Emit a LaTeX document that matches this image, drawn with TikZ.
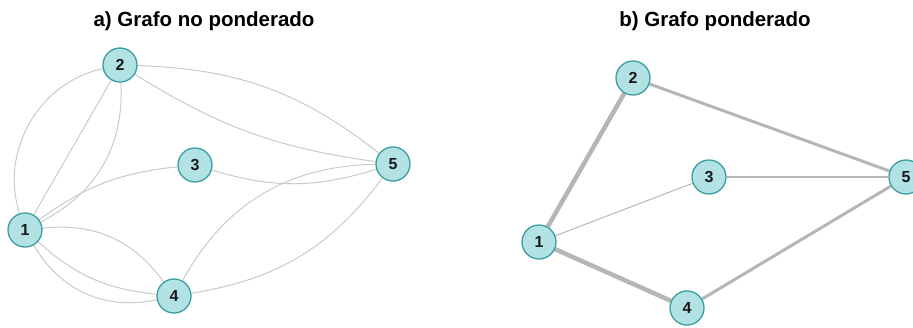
\documentclass[tikz,border=0pt]{standalone}
\usepackage{fontspec}
\setmainfont{Liberation Sans}
\usetikzlibrary{backgrounds}
\definecolor{nodefill}{RGB}{178,226,228}
\definecolor{nodeborder}{RGB}{58,158,160}
\definecolor{edgeA}{RGB}{202,202,202}
\definecolor{edgeB}{RGB}{182,182,182}
\definecolor{txt}{RGB}{25,25,25}
\tikzset{
  vert/.style={circle, minimum size=34pt, inner sep=0pt, fill=nodefill, draw=nodeborder, line width=1.3pt, text=txt, font=\fontsize{16}{18}\selectfont\bfseries},
  title/.style={anchor=base, text=black, font=\fontsize{20.5}{24}\selectfont\bfseries},
  ledge/.style={draw=edgeA, line width=1pt},
  redge/.style={draw=edgeB},
}
\begin{document}
\begin{tikzpicture}[x=1pt, y=-1pt]
\clip (0,0) rectangle (913,327);
\node[title] (ta) at (204,26) {a) Grafo no ponderado};
\node[title] (tb) at (715,26) {b) Grafo ponderado};
% left graph
\node[vert] (a1) at (25,230) {1};
\node[vert] (a2) at (120,65) {2};
\node[vert] (a3) at (195,165) {3};
\node[vert] (a4) at (174,296) {4};
\node[vert] (a5) at (393,164) {5};
% right graph
\node[vert] (b1) at (539,242) {1};
\node[vert] (b2) at (633,78) {2};
\node[vert] (b3) at (709,177) {3};
\node[vert] (b4) at (687,308) {4};
\node[vert] (b5) at (906,177) {5};
\begin{scope}[on background layer]
\draw[ledge] (a1) to[bend left=48] (a2);
\draw[ledge] (a1) -- (a2);
\draw[ledge] (a1) to[bend right=33] (a2);
\draw[ledge] (a1) to[bend left=15] (a3);
\draw[ledge] (a3) to[bend right=17] (a5);
\draw[ledge] (a2) to[bend left=18] (a5);
\draw[ledge] (a2) to[bend right=12] (a5);
\draw[ledge] (a1) to[bend left=30] (a4);
\draw[ledge] (a1) to[bend right=18] (a4);
\draw[ledge] (a1) to[bend right=36] (a4);
\draw[ledge] (a4) to[bend left=30] (a5);
\draw[ledge] (a4) to[bend right=22] (a5);
\draw[redge, line width=4.5pt] (b1) -- (b2);
\draw[redge, line width=4.5pt] (b1) -- (b4);
\draw[redge, line width=3pt] (b2) -- (b5);
\draw[redge, line width=3pt] (b4) -- (b5);
\draw[redge, line width=1pt] (b1) -- (b3);
\draw[redge, line width=1.4pt] (b3) -- (b5);
\end{scope}
\end{tikzpicture}
\end{document}
